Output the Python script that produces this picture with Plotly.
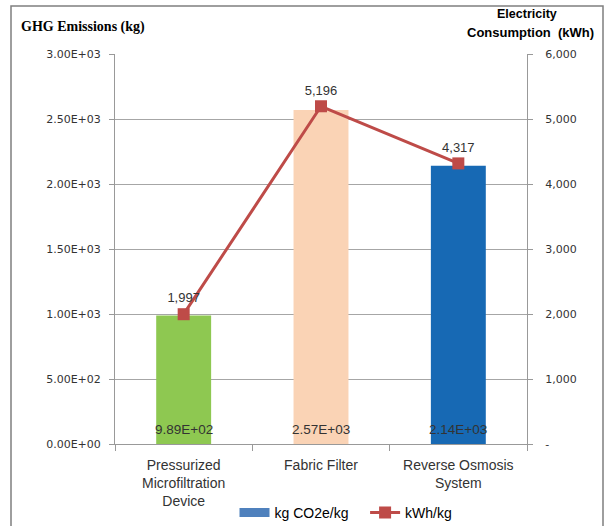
import plotly.graph_objects as go

# Data
categories = ["Pressurized<br>Microfiltration<br>Device", "Fabric Filter", "Reverse Osmosis<br>System"]
ghg_kg = [989, 2570, 2140]          # kg CO2e/kg
kwh = [1997, 5196, 4317]            # kWh/kg
bar_colors = ["#8EC851", "#FAD3B5", "#1769B4"]

left_ticks = [0, 500, 1000, 1500, 2000, 2500, 3000]
right_ticks = [0, 1000, 2000, 3000, 4000, 5000, 6000]

# Plot area geometry (pixels)
W, H = 605, 526
L, R, T, B = 115, 78, 54, 82
pw, ph = W - L - R, H - T - B

def px_x(x):
    return (x - L) / pw

def px_y(y):
    return (H - B - y) / ph

text_col = "#333333"
grid_col = "#A6A6A6"

fig = go.Figure()

fig.add_trace(go.Bar(
    x=categories, y=ghg_kg, width=0.4,
    marker=dict(color=bar_colors, line=dict(width=0)),
    showlegend=False, hoverinfo="skip",
))

# legend entry for the bar series
fig.add_trace(go.Scatter(
    x=[None], y=[None], mode="lines", name="kg CO2e/kg&nbsp;&nbsp;&nbsp;",
    line=dict(color="#4F81BD", width=9),
))

fig.add_trace(go.Scatter(
    x=categories, y=kwh, yaxis="y2", name="kWh/kg",
    mode="lines+markers+text",
    line=dict(color="#BE4B48", width=3),
    marker=dict(symbol="square", size=12, color="#BE4B48"),
    text=[f"{v:,}" for v in kwh], textposition="top center",
    textfont=dict(family="Liberation Sans", size=13, color=text_col),
    cliponaxis=False,
))

annotations = []
# bar value labels at the base of each bar
for c, v in zip(categories, ghg_kg):
    annotations.append(dict(
        x=c, y=0, xref="x", yref="y", text=f"{v:.2E}", showarrow=False,
        yshift=15, font=dict(family="Liberation Sans", size=13.5, color=text_col),
    ))

annotations += [
    dict(x=px_x(19), y=px_y(27), xref="paper", yref="paper", xanchor="left", yanchor="middle",
         text="<b>GHG Emissions (kg)</b>", showarrow=False,
         font=dict(family="Liberation Serif", size=14, color="#000000")),
    dict(x=px_x(527), y=px_y(14), xref="paper", yref="paper", xanchor="center", yanchor="middle",
         text="<b>Electricity</b>", showarrow=False,
         font=dict(family="Liberation Sans", size=12.5, color="#000000")),
    dict(x=px_x(530), y=px_y(33), xref="paper", yref="paper", xanchor="center", yanchor="middle",
         text="<b>Consumption&nbsp;&nbsp;(kWh)</b>", showarrow=False,
         font=dict(family="Liberation Sans", size=13, color="#000000")),
]

fig.update_layout(
    width=W, height=H,
    margin=dict(l=L, r=R, t=T, b=B, pad=0, autoexpand=False),
    paper_bgcolor="white", plot_bgcolor="white",
    bargap=0.6,
    xaxis=dict(
        type="category", showline=True, linecolor="#999999", linewidth=1,
        ticks="outside", tickson="boundaries", ticklen=6, tickcolor="#999999",
        tickfont=dict(family="Liberation Sans", size=14, color=text_col),
        ticklabelstandoff=8,
        showgrid=False,
    ),
    yaxis=dict(
        range=[0, 3000], tickvals=left_ticks,
        ticktext=[f"{v:.2E}" for v in left_ticks],
        showline=True, linecolor="#999999", linewidth=1,
        ticks="outside", ticklen=5, tickcolor="#999999",
        tickfont=dict(family="DejaVu Sans", size=11, color=text_col),
        ticklabelstandoff=6,
        showgrid=True, gridcolor=grid_col, gridwidth=1, zeroline=False,
    ),
    yaxis2=dict(
        range=[0, 6000], overlaying="y", side="right", tickvals=right_ticks,
        ticktext=["-" if v == 0 else f"{v:,}" for v in right_ticks],
        showline=True, linecolor="#999999", linewidth=1,
        ticks="outside", ticklen=5, tickcolor="#999999",
        tickfont=dict(family="DejaVu Sans", size=11, color=text_col),
        ticklabelstandoff=10,
        showgrid=False, zeroline=False,
    ),
    legend=dict(
        orientation="h", x=px_x(346), xanchor="center", y=px_y(513), yanchor="middle",
        font=dict(family="Liberation Sans", size=14, color="#000000"),
        bgcolor="rgba(0,0,0,0)", itemwidth=30,
    ),
    annotations=annotations,
    shapes=[dict(
        type="rect", xref="paper", yref="paper",
        x0=px_x(11), x1=px_x(603), y0=px_y(540), y1=px_y(6),
        line=dict(color="#7F7F7F", width=1.5), fillcolor="rgba(0,0,0,0)", layer="above",
    )],
)

fig.write_html("out.html")
